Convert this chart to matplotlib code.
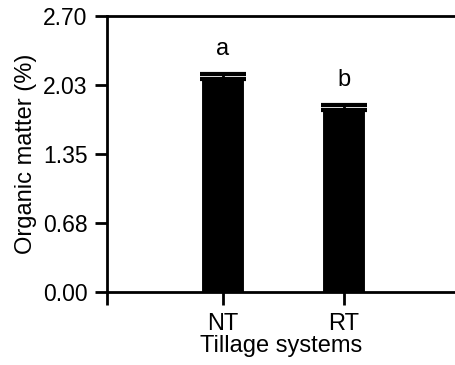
import matplotlib.pyplot as plt

systems = ['NT', 'RT']
organic_matter = [2.08, 1.78]
errors = [0.05, 0.05]
letters = ['a', 'b']
y_ticks = [0.00, 0.68, 1.35, 2.03, 2.70]


def main():
    plt.rcParams['font.family'] = ['Liberation Sans', 'DejaVu Sans']
    fig = plt.figure(figsize=(4.55, 3.65), dpi=100)
    ax = fig.add_axes([0.235, 0.2, 0.765, 0.756])

    x = [1, 2]
    ax.bar(x, organic_matter, width=0.355, color='black', edgecolor='white', linewidth=0.8)
    ax.errorbar(x, organic_matter, yerr=[[0, 0], errors], fmt='none', ecolor='black',
                elinewidth=2, capsize=16.5, capthick=3)
    for xi, v, e, lab in zip(x, organic_matter, errors, letters):
        ax.text(xi, v + e + 0.14, lab, ha='center', va='bottom', fontsize=17)

    ax.set_xlim(0.04, 2.92)
    ax.set_ylim(0, 2.70)
    ax.set_xticks(x)
    ax.set_xticklabels(systems)
    ax.set_xticks([0.04], minor=True)
    ax.set_yticks(y_ticks)
    ax.set_yticklabels(['{:.2f}'.format(t) for t in y_ticks])
    ax.set_xlabel('Tillage systems', fontsize=17, labelpad=0)
    ax.set_ylabel('Organic matter (%)', fontsize=17, labelpad=4)

    ax.spines['right'].set_visible(False)
    for side in ['left', 'top', 'bottom']:
        ax.spines[side].set_linewidth(2)
    ax.tick_params(axis='both', which='both', width=2, length=9, direction='out', labelsize=16.5)
    ax.tick_params(axis='y', pad=5)
    ax.tick_params(axis='x', pad=6, labelsize=17)

    fig.savefig('out.png', dpi=100)


if __name__ == '__main__':
    main()
